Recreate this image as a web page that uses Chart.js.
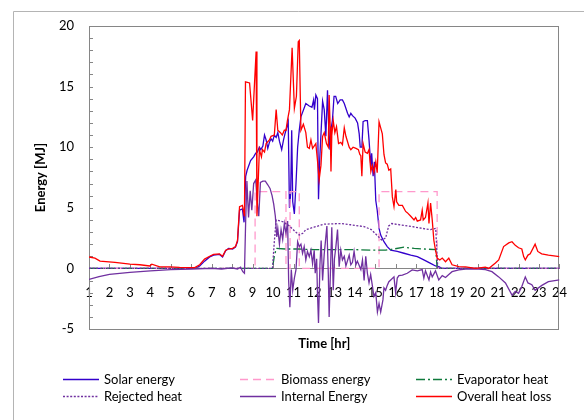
<!DOCTYPE html>
<html>
<head>
<meta charset="utf-8">
<script src="https://cdn.jsdelivr.net/npm/chart.js@4.4.1/dist/chart.umd.min.js"></script>
<style>
  html, body { margin: 0; padding: 0; background: #fff; }
  #wrap { width: 584px; height: 420px; }
</style>
</head>
<body>
<div id="wrap"><canvas id="energy"></canvas></div>
<script>
// hours and MJ
const solarT = [1, 6.2, 6.41, 6.65, 6.9, 7.09, 7.38, 7.53, 7.68, 7.82, 8.02, 8.16, 8.26, 8.36, 8.5, 8.58, 8.66, 8.73, 8.9, 9.05, 9.15, 9.23, 9.33, 9.4, 9.5, 9.58, 9.66, 9.74, 9.82, 9.9, 9.98, 10.06, 10.15, 10.23, 10.31, 10.42, 10.51, 10.58, 10.68, 10.74, 10.8, 10.86, 10.91, 10.96, 11.04, 11.12, 11.2, 11.28, 11.36, 11.6, 11.77, 11.9, 11.98, 12.02, 12.09, 12.17, 12.22, 12.28, 12.42, 12.5, 12.58, 12.66, 12.71, 12.78, 12.83, 12.9, 12.98, 13.06, 13.16, 13.28, 13.39, 13.48, 13.64, 13.72, 13.8, 13.88, 14.01, 14.13, 14.21, 14.26, 14.34, 14.4, 14.5, 14.61, 14.69, 14.78, 14.82, 14.89, 14.95, 15.02, 15.09, 15.18, 15.26, 15.42, 15.58, 15.75, 16.07, 16.4, 16.73, 17.05, 17.37, 17.7, 17.94, 18.1, 18.25, 24];
const solarE = [0, 0, 0.2, 0.6, 0.95, 1.1, 1.15, 0.95, 1.45, 1.65, 1.6, 1.75, 2.2, 4.8, 4.9, 3.8, 7.6, 8.1, 8.9, 9.2, 9.5, 9.6, 10.0, 9.8, 10.1, 11.0, 10.6, 9.9, 10.4, 10.7, 10.5, 11.0, 10.8, 11.2, 10.5, 9.8, 10.6, 11.1, 11.7, 12.1, 5.0, 6.2, 11.4, 5.5, 4.5, 7.0, 10.0, 11.4, 12.5, 13.6, 13.4, 13.3, 13.9, 13.1, 14.3, 14.0, 5.7, 9.0, 13.8, 13.1, 10.9, 14.7, 12.0, 9.8, 11.5, 12.2, 14.2, 14.2, 13.6, 13.9, 13.9, 13.6, 12.8, 12.5, 12.8, 12.6, 12.4, 12.0, 11.1, 10.0, 10.0, 12.1, 12.2, 12.2, 10.6, 8.4, 9.5, 7.6, 8.8, 5.6, 4.8, 3.3, 2.75, 2.2, 1.8, 1.5, 1.4, 1.25, 1.1, 0.97, 0.7, 0.42, 0.2, 0.14, 0, 0];

const bioT = [1, 9.12, 9.12, 10.63, 10.63, 10.83, 10.83, 11.28, 11.28, 15.18, 15.18, 18.02, 18.02, 24];
const bioE = [0, 0, 6.33, 6.33, 0, 0, 6.33, 6.33, 0, 0, 6.33, 6.33, 0, 0];

const evapT = [1, 9.97, 10.05, 10.15, 10.6, 11.2, 12, 13, 14, 14.8, 15.5, 15.9, 16.4, 16.9, 17.4, 17.95, 18.02, 24];
const evapE = [0, 0, 0.9, 1.65, 1.6, 1.6, 1.55, 1.55, 1.55, 1.5, 1.5, 1.6, 1.75, 1.65, 1.6, 1.55, 0, 0];

const rejT = [1, 9.97, 10.06, 10.15, 10.48, 10.8, 11.1, 11.28, 11.45, 11.6, 12.0, 12.5, 13.3, 13.8, 14.45, 14.8, 15.1, 15.3, 15.5, 15.65, 15.8, 16.2, 16.8, 17.3, 17.7, 17.95, 18.05, 24];
const rejE = [0, 0, 2.2, 4.0, 3.85, 3.5, 3.0, 2.75, 2.9, 3.2, 3.4, 3.65, 3.7, 3.6, 3.45, 3.2, 2.7, 2.35, 2.5, 3.5, 3.7, 3.6, 3.45, 3.3, 3.2, 3.3, 0, 0];

const intT = [1, 1.49, 2, 3, 4, 5, 6, 7, 7.48, 7.97, 8.26, 8.41, 8.52, 8.6, 8.66, 8.72, 8.8, 8.88, 8.96, 9.05, 9.15, 9.22, 9.3, 9.38, 9.5, 9.62, 9.74, 9.85, 9.95, 10.03, 10.11, 10.18, 10.23, 10.31, 10.39, 10.47, 10.55, 10.63, 10.71, 10.76, 10.82, 10.89, 10.96, 11.04, 11.12, 11.2, 11.28, 11.36, 11.44, 11.52, 11.6, 11.68, 11.77, 11.85, 11.93, 12.01, 12.06, 12.13, 12.17, 12.22, 12.29, 12.35, 12.42, 12.5, 12.58, 12.63, 12.7, 12.74, 12.83, 12.87, 12.94, 13.0, 13.07, 13.15, 13.23, 13.31, 13.39, 13.48, 13.56, 13.72, 13.8, 13.88, 13.96, 14.05, 14.12, 14.29, 14.37, 14.45, 14.53, 14.61, 14.69, 14.77, 14.86, 14.93, 15.02, 15.1, 15.18, 15.26, 15.37, 15.42, 15.5, 15.58, 15.66, 15.75, 15.91, 15.99, 16.07, 16.15, 16.32, 16.56, 16.8, 17.05, 17.29, 17.37, 17.45, 17.62, 17.7, 17.78, 17.94, 18.1, 18.27, 18.43, 18.59, 18.75, 19.08, 19.41, 20.05, 20.38, 20.7, 21.03, 21.36, 21.68, 21.84, 22.0, 22.16, 22.33, 22.46, 22.65, 22.81, 23.14, 23.46, 24];
const intE = [-0.9, -0.68, -0.5, -0.33, -0.2, -0.1, -0.05, 0, -0.05, 0.05, -0.05, 0.1, -0.27, -0.4, 4.0, 7.2, 4.2, 6.4, 4.8, 7.0, 7.3, 5.6, 4.3, 7.1, 7.2, 7.2, 6.9, 6.6, 6.0, 5.3, 4.3, 2.6, 3.3, 2.0, 3.2, 2.4, 3.7, 2.9, 3.9, -1.0, -3.2, -0.1, -1.8, -0.8, -0.1, 2.2, 1.8, 2.0, 1.25, 1.8, 0.7, 1.4, 0.97, 1.5, 0.4, 1.5, -0.4, 0.8, -2.05, -4.5, 0.3, 2.3, -1.0, 1.2, 2.6, 3.5, -0.5, -4.0, 1.3, 3.4, -1.8, 0.8, 1.8, 3.2, 0.14, 1.5, 0.7, 1.0, 0.2, 1.1, 0.3, 0.5, 1.4, 0.3, 0.6, -0.1, 0.7, -1.0, 1.0, -0.4, -1.2, -0.5, -1.5, -2.3, -2.0, -3.6, -2.9, -3.6, -2.6, -1.6, -1.8, -1.4, -1.1, -0.95, -0.7, -2.0, -0.8, -0.6, -0.55, -0.4, -0.13, -0.2, -0.1, -0.8, -0.2, -0.95, -0.3, -0.7, -0.2, -0.95, -0.6, -0.75, -0.5, -0.27, -0.13, -0.05, -0.05, -0.1, -0.27, -0.7, -1.2, -2.2, -1.9, -2.05, -1.5, -0.7, -1.2, -1.35, -1.8, -1.4, -1.1, -0.95];

const lossT = [1, 1.29, 1.54, 2.27, 3.0, 3.49, 3.97, 4.07, 4.46, 4.95, 5.43, 6.17, 6.41, 6.65, 6.9, 7.09, 7.38, 7.53, 7.68, 7.82, 8.02, 8.16, 8.26, 8.36, 8.5, 8.6, 8.65, 8.85, 9.0, 9.17, 9.21, 9.33, 9.43, 9.48, 9.58, 9.66, 9.82, 9.9, 10.06, 10.15, 10.23, 10.36, 10.45, 10.55, 10.63, 10.7, 10.8, 10.93, 11.04, 11.14, 11.23, 11.28, 11.36, 11.48, 11.6, 11.68, 11.77, 11.85, 11.93, 12.09, 12.17, 12.25, 12.34, 12.42, 12.5, 12.61, 12.7, 12.74, 12.79, 12.83, 12.87, 12.94, 13.02, 13.1, 13.2, 13.31, 13.39, 13.48, 13.56, 13.72, 13.8, 13.91, 14.05, 14.17, 14.24, 14.29, 14.34, 14.4, 14.5, 14.61, 14.69, 14.78, 14.85, 14.93, 15.02, 15.09, 15.18, 15.26, 15.34, 15.42, 15.5, 15.58, 15.66, 15.75, 15.83, 15.91, 16.0, 16.04, 16.15, 16.32, 16.48, 16.56, 16.73, 16.89, 16.97, 17.05, 17.21, 17.29, 17.34, 17.45, 17.57, 17.62, 17.7, 17.78, 17.86, 17.94, 18.02, 18.15, 18.27, 18.43, 18.59, 18.75, 19.08, 19.41, 19.9, 20.38, 20.54, 20.87, 21.03, 21.27, 21.52, 21.68, 21.84, 22.0, 22.16, 22.25, 22.33, 22.46, 22.57, 22.81, 22.94, 23.13, 23.46, 24];
const lossE = [0.94, 0.85, 0.6, 0.5, 0.35, 0.3, 0.2, 0.35, 0.12, 0.12, 0.08, 0.07, 0.3, 0.77, 1.0, 1.15, 1.2, 1.0, 1.5, 1.6, 1.65, 1.8, 2.3, 5.1, 5.2, 4.3, 15.4, 15.3, 12.2, 17.9, 4.3, 9.8, 9.2, 9.8, 9.6, 10.3, 10.6, 10.9, 11.0, 13.1, 11.4, 11.2, 11.0, 11.4, 11.4, 12.2, 13.1, 18.2, 13.2, 14.2, 18.7, 18.8, 11.4, 11.9, 11.2, 10.0, 9.9, 10.6, 9.9, 10.3, 8.9, 7.3, 8.5, 10.9, 11.2, 10.3, 10.0, 14.3, 11.7, 8.0, 11.0, 12.2, 11.2, 11.7, 10.3, 10.4, 10.2, 11.6, 10.9, 10.0, 9.8, 10.0, 9.9, 9.8, 9.4, 9.3, 7.6, 10.3, 9.6, 9.5, 9.8, 8.0, 8.5, 7.9, 8.8, 7.9, 12.1, 11.6, 11.1, 9.4, 8.7, 8.6, 8.1, 8.2, 5.9, 5.1, 6.5, 5.5, 5.2, 5.2, 4.7, 4.6, 4.3, 4.0, 4.2, 3.9, 4.0, 4.8, 4.0, 4.2, 5.4, 3.7, 5.4, 4.0, 2.3, 1.5, 0.85, 0.7, 0.85, 0.55, 0.85, 0.3, 0.15, 0.12, 0, 0.1, 0, 0.44, 0.7, 1.8, 2.1, 2.2, 1.9, 1.7, 1.6, 0.97, 0.7, 1.1, 1.2, 2.0, 1.4, 1.2, 1.1, 0.97];

const seriesNames = ["Solar energy", "Biomass energy", "Evaporator heat", "Rejected heat", "Internal Energy", "Overall heat loss"];
const hourTicks = [1, 24];
const energyTicks = [-5, 20];

const pts = (t, v) => t.map((x, i) => ({ x: x, y: v[i] }));

const axisGrey = "#868686";
const legendCols = [63, 240, 416];
const legendRows = [379, 396];

const decor = {
	id: "decor",
	beforeDraw(chart) {
		const ctx = chart.ctx;
		ctx.save();
		ctx.fillStyle = "#fff";
		ctx.fillRect(0, 0, chart.width, chart.height);
		ctx.strokeStyle = "#b4b4b4";
		ctx.lineWidth = 1;
		ctx.beginPath();
		ctx.moveTo(13.5, chart.height);
		ctx.lineTo(13.5, 11.5);
		ctx.lineTo(chart.width, 11.5);
		ctx.stroke();
		ctx.restore();
	},
	beforeDatasetsDraw(chart) {
		const ctx = chart.ctx;
		const a = chart.chartArea;
		const x = chart.scales.x, y = chart.scales.y;
		ctx.save();
		ctx.strokeStyle = axisGrey;
		ctx.lineWidth = 1;
		ctx.strokeRect(Math.round(a.left) + 0.5, Math.round(a.top) + 0.5, Math.round(a.right - a.left) - 1, Math.round(a.bottom - a.top));
		// minor ticks on the energy axis, every 1 MJ
		ctx.beginPath();
		for (let v = y.min; v <= y.max; v++) {
			const py = Math.round(y.getPixelForValue(v)) + 0.5;
			ctx.moveTo(a.left, py);
			ctx.lineTo(a.left + 4, py);
		}
		// hour ticks on the zero line
		const y0 = Math.round(y.getPixelForValue(0));
		for (let h = x.min; h <= x.max; h++) {
			const px = Math.round(x.getPixelForValue(h)) + 0.5;
			ctx.moveTo(px, y0);
			ctx.lineTo(px, y0 - 4);
		}
		ctx.stroke();
		ctx.restore();
	},
	afterDraw(chart) {
		const ctx = chart.ctx;
		ctx.save();
		ctx.font = "13px Lato";
		ctx.textBaseline = "middle";
		ctx.fillStyle = "#000";
		chart.data.datasets.forEach((ds, i) => {
			const lx = legendCols[i % 3];
			const ly = legendRows[Math.floor(i / 3)];
			ctx.strokeStyle = ds.borderColor;
			ctx.lineWidth = 1.5;
			ctx.setLineDash(ds.borderDash || []);
			ctx.beginPath();
			ctx.moveTo(lx, ly + 0.5);
			ctx.lineTo(lx + 36, ly + 0.5);
			ctx.stroke();
			ctx.setLineDash([]);
			ctx.fillText(ds.label, lx + 41, ly + 1);
		});
		ctx.restore();
	},
};

Chart.defaults.font.family = "Lato";
Chart.defaults.color = "#000";

const energyChart = new Chart(document.getElementById("energy").getContext("2d"), {
	type: "line",
	data: {
		datasets: [
			{ label: seriesNames[0], data: pts(solarT, solarE), borderColor: "#3300CC", borderWidth: 1.3, order: 5 },
			{ label: seriesNames[1], data: pts(bioT, bioE), borderColor: "#FF99CC", borderWidth: 1.3, borderDash: [8, 5], order: 4 },
			{ label: seriesNames[2], data: pts(evapT, evapE), borderColor: "#0F7A3C", borderWidth: 1.3, borderDash: [9, 3, 2, 3], order: 3 },
			{ label: seriesNames[3], data: pts(rejT, rejE), borderColor: "#7030A0", borderWidth: 1.3, borderDash: [2, 1.6], order: 2 },
			{ label: seriesNames[4], data: pts(intT, intE), borderColor: "#7030A0", borderWidth: 1.3, order: 1 },
			{ label: seriesNames[5], data: pts(lossT, lossE), borderColor: "#FF0000", borderWidth: 1.3, order: 0 },
		],
	},
	options: {
		responsive: true,
		maintainAspectRatio: false,
		animation: false,
		elements: {
			point: { radius: 0, hoverRadius: 0 },
			line: { tension: 0, fill: false },
		},
		layout: { padding: { left: 13, top: 26, right: 23, bottom: 91 } },
		plugins: {
			legend: { display: false },
			tooltip: { enabled: false },
		},
		scales: {
			x: {
				type: "linear",
				position: { y: 0 },
				min: hourTicks[0],
				max: hourTicks[1],
				grid: { display: false, drawTicks: false },
				border: { display: true, color: axisGrey, width: 1 },
				ticks: { stepSize: 1, padding: 17, autoSkip: false, maxRotation: 0, minRotation: 0, font: { size: 13 }, color: "#000" },
				title: { display: true, text: "Time [hr]", font: { size: 13, weight: "bold" }, padding: { top: 18, bottom: 0 }, color: "#000" },
			},
			y: {
				min: energyTicks[0],
				max: energyTicks[1],
				grid: { display: false, drawTicks: false },
				border: { display: true, color: axisGrey, width: 1 },
				ticks: { stepSize: 5, padding: 15, font: { size: 13 }, color: "#000" },
				title: { display: true, text: "Energy [MJ]", font: { size: 13, weight: "bold" }, padding: { top: 20, bottom: 0 }, color: "#000" },
				afterFit(scale) {
					scale.width = 76;
				},
			},
		},
	},
	plugins: [decor],
});
</script>
</body>
</html>
